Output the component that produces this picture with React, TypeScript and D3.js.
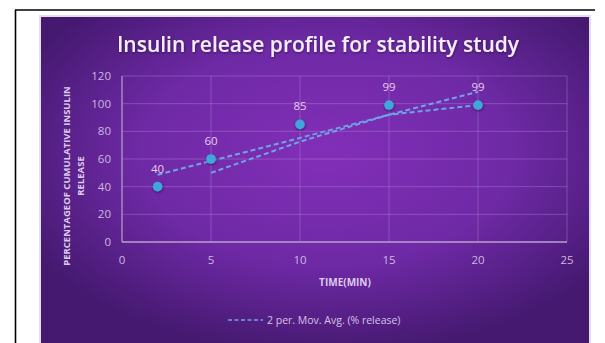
import React from "react";
import * as d3 from "d3";

const times = [2, 5, 10, 15, 20];
const release = [40, 60, 85, 99, 99];
const movAvgTimes = [5, 10, 15, 20];
const movAvgValues = [50, 72.5, 92, 99];
const trendTimes = [2, 20];
const trendValues = [48.6, 108.6];
const xTicks = [0, 5, 10, 15, 20, 25];
const yTicks = [0, 20, 40, 60, 80, 100, 120];

const W = 605;
const H = 343;
const FONT = "'Open Sans', Lato, sans-serif";

export default function App() {
  const x = d3.scaleLinear().domain([0, 25]).range([122, 567]);
  const y = d3.scaleLinear().domain([0, 120]).range([242, 76]);
  const line = d3
    .line<[number, number]>()
    .x((d) => x(d[0]))
    .y((d) => y(d[1]));
  const ma = line(movAvgTimes.map((t, i) => [t, movAvgValues[i]]));
  const trend = line(trendTimes.map((t, i) => [t, trendValues[i]]));
  const lineColor = "#6fa3e6";

  return (
    <svg
      width={W}
      height={H}
      style={{ position: "absolute", left: 0, top: 0, display: "block" }}
    >
      <defs>
        <radialGradient id="bg" cx="0.52" cy="0.42" r="0.62">
          <stop offset="0" stopColor="#822fb8" />
          <stop offset="0.55" stopColor="#6e29a5" />
          <stop offset="1" stopColor="#44196f" />
        </radialGradient>
        <filter id="sh" x="-50%" y="-50%" width="200%" height="200%">
          <feDropShadow dx="0.5" dy="1" stdDeviation="1" floodColor="#1b0830" floodOpacity="0.7" />
        </filter>
        <filter id="tsh" x="-10%" y="-30%" width="120%" height="160%">
          <feDropShadow dx="0.5" dy="1" stdDeviation="0.8" floodColor="#200838" floodOpacity="0.6" />
        </filter>
      </defs>
      <rect x={0} y={0} width={W} height={H} fill="#ffffff" />
      {/* black frame */}
      <line x1={15} y1={10} x2={595} y2={10} stroke="#000" strokeWidth={1.6} />
      <line x1={15.5} y1={10} x2={15.5} y2={H} stroke="#000" strokeWidth={1.6} />
      {/* chart background */}
      <rect x={39} y={15} width={552} height={330} fill="#e6dcf0" />
      <rect x={41} y={17} width={548} height={326} fill="url(#bg)" />

      {/* title */}
      <text
        x={318}
        y={52}
        textAnchor="middle"
        fontFamily={FONT}
        fontWeight={600}
        fontSize={21}
        fill="#f4ecfa"
        filter="url(#tsh)"
      >
        Insulin release profile for stability study
      </text>

      {/* gridlines */}
      {yTicks.slice(1).map((t) => (
        <line key={"gy" + t} x1={x(0)} x2={x(25)} y1={y(t)} y2={y(t)} stroke="#b07fd6" strokeOpacity={0.45} strokeWidth={1} />
      ))}
      {xTicks.slice(1).map((t) => (
        <line key={"gx" + t} x1={x(t)} x2={x(t)} y1={y(0)} y2={y(120)} stroke="#b07fd6" strokeOpacity={0.45} strokeWidth={1} />
      ))}
      {/* axes */}
      <line x1={x(0)} x2={x(25)} y1={y(0)} y2={y(0)} stroke="#b9a2cf" strokeWidth={1.5} />
      <line x1={x(0)} x2={x(0)} y1={y(0)} y2={y(120)} stroke="#b9a2cf" strokeWidth={1.2} />

      {/* tick labels */}
      {yTicks.map((t) => (
        <text key={"ty" + t} x={111} y={y(t) + 4} textAnchor="end" fontFamily={FONT} fontSize={11.5} fill="#cdb8e0">
          {t}
        </text>
      ))}
      {xTicks.map((t) => (
        <text key={"tx" + t} x={x(t)} y={264} textAnchor="middle" fontFamily={FONT} fontSize={11.5} fill="#cdb8e0">
          {t}
        </text>
      ))}

      {/* axis titles */}
      <text x={345} y={286} textAnchor="middle" fontFamily={FONT} fontWeight={700} fontSize={10} fill="#dccbec">
        TIME(MIN)
      </text>
      <g transform="translate(70,176) rotate(-90)">
        <text x={0} y={0} textAnchor="middle" fontFamily={FONT} fontWeight={700} fontSize={9.5} fill="#dccbec">
          PERCENTAGEOF CUMULATIVE INSULIN
        </text>
        <text x={0} y={14} textAnchor="middle" fontFamily={FONT} fontWeight={700} fontSize={9.5} fill="#dccbec">
          RELEASE
        </text>
      </g>

      {/* trend & moving average lines */}
      <path d={trend ?? ""} fill="none" stroke={lineColor} strokeWidth={2} strokeDasharray="5,3" />
      <path d={ma ?? ""} fill="none" stroke={lineColor} strokeWidth={2} strokeDasharray="5,3" />

      {/* points */}
      {times.map((t, i) => (
        <circle key={"p" + t} cx={x(t)} cy={y(release[i])} r={4.8} fill="#3fa6dc" filter="url(#sh)" />
      ))}
      {/* data labels */}
      {times.map((t, i) => (
        <text key={"l" + t} x={x(t)} y={y(release[i]) - 14} textAnchor="middle" fontFamily={FONT} fontSize={11.5} fill="#e6cdec">
          {release[i]}
        </text>
      ))}

      {/* legend */}
      <line x1={228} x2={263} y1={320} y2={320} stroke={lineColor} strokeWidth={1.6} strokeDasharray="4,2.5" />
      <text x={267} y={324} fontFamily={FONT} fontSize={10.5} fill="#d6c2e8">
        2 per. Mov. Avg. (% release)
      </text>
    </svg>
  );
}
